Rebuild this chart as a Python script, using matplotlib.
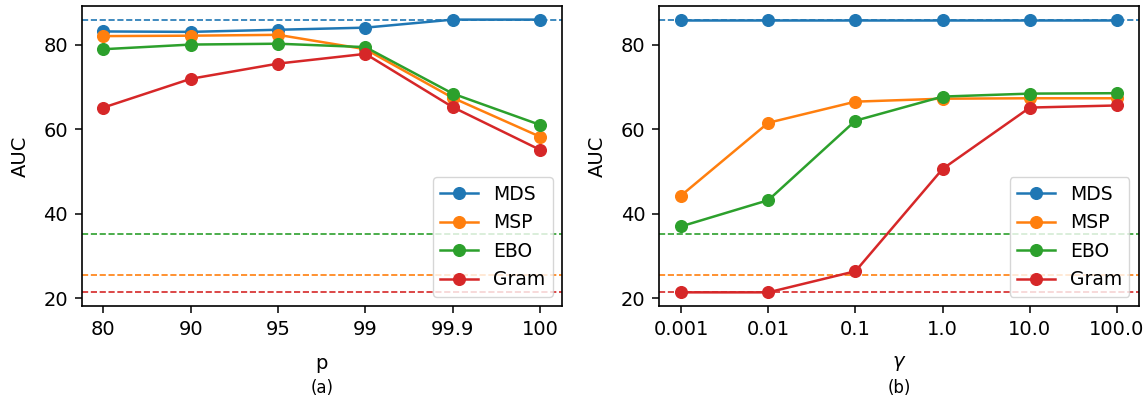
import matplotlib
matplotlib.use("Agg")
from matplotlib import pyplot as plt

# valeurs
p_labels = ["80", "90", "95", "99", "99.9", "100"]
gamma_labels = ["0.001", "0.01", "0.1", "1.0", "10.0", "100.0"]
methodes = ["MDS", "MSP", "EBO", "Gram"]
couleurs = ["tab:blue", "tab:orange", "tab:green", "tab:red"]

# référence (lignes pointillées)
baseline = [85.9, 25.6, 35.1, 21.4]

auc_p = {
    "MDS": [83.1, 83.0, 83.5, 84.0, 85.9, 85.9],
    "MSP": [82.0, 82.1, 82.3, 78.9, 67.4, 58.2],
    "EBO": [78.9, 80.0, 80.2, 79.4, 68.4, 61.0],
    "Gram": [65.1, 71.9, 75.5, 77.8, 65.2, 55.1],
}

auc_gamma = {
    "MDS": [85.9, 85.9, 85.9, 85.9, 85.9, 85.9],
    "MSP": [44.3, 61.5, 66.5, 67.2, 67.3, 67.3],
    "EBO": [37.0, 43.2, 62.0, 67.7, 68.4, 68.5],
    "Gram": [21.4, 21.4, 26.4, 50.6, 65.1, 65.6],
}

plt.rcParams.update({
    "axes.linewidth": 1.2,
    "xtick.major.size": 4.9, "ytick.major.size": 4.9,
    "xtick.major.width": 1.1, "ytick.major.width": 1.1,
    "xtick.major.pad": 4.9, "ytick.major.pad": 4.9,
})


def tracer(ax, labels, donnees, xlabel, lettre):
    for m, c, b in zip(methodes, couleurs, baseline):
        ax.axhline(b, color=c, linestyle="--", linewidth=1.2)
    for m, c in zip(methodes, couleurs):
        ax.plot(labels, donnees[m], marker="o", markersize=8.4, linewidth=1.8,
                color=c, label=m)
    ax.set_ylabel("AUC", fontsize=14, labelpad=10)
    ax.set_xlabel(xlabel, fontsize=14, labelpad=11)
    ax.set_yticks([20, 40, 60, 80])
    ax.tick_params(labelsize=14)
    ax.legend(loc="lower right", fontsize=13.5)
    ax.text(0.5, -0.275, lettre, transform=ax.transAxes, ha="center",
            va="center", fontsize=12)


fig = plt.figure(figsize=(11.48, 4.04), dpi=100)
ax1 = fig.add_axes([0.071, 0.2426, 0.4185, 0.7426])
ax2 = fig.add_axes([0.5743, 0.2426, 0.4177, 0.7426])

tracer(ax1, p_labels, auc_p, "p", "(a)")
tracer(ax2, gamma_labels, auc_gamma, r"$\gamma$", "(b)")

fig.savefig("out.png", dpi=100)
